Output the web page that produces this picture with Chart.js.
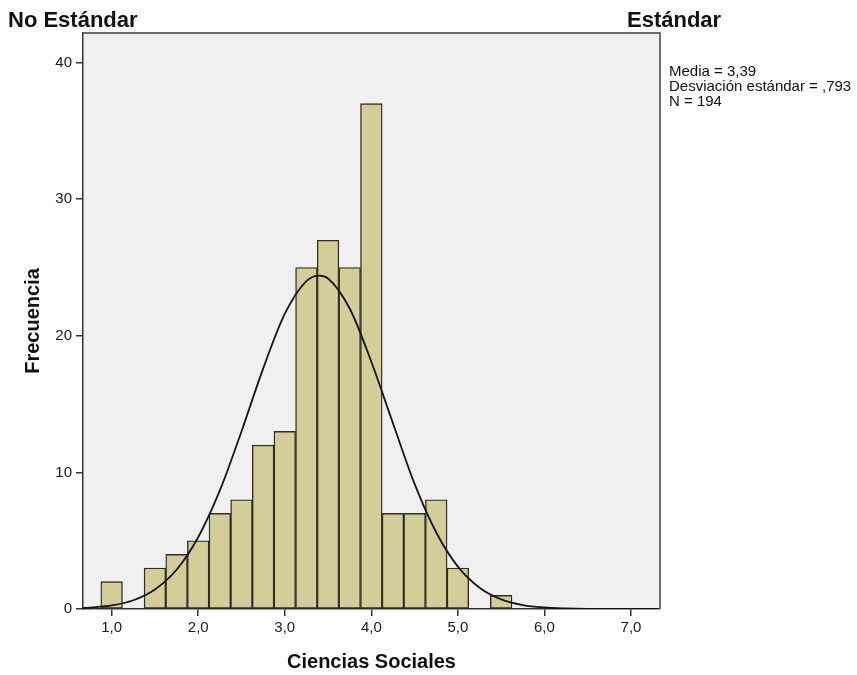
<!DOCTYPE html>
<html>
<head>
<meta charset="utf-8">
<title>Ciencias Sociales</title>
<script src="https://cdn.jsdelivr.net/npm/chart.js@4/dist/chart.umd.min.js"></script>
<style>
  html, body { margin: 0; padding: 0; background: #fff; }
  #wrap { width: 857px; height: 675px; position: relative; }
</style>
</head>
<body>
<div id="wrap"><canvas id="myChart"></canvas></div>
<script>
// histogram bins (bin centre, width 0.25) and counts
const binCenters = [1.0, 1.5, 1.75, 2.0, 2.25, 2.5, 2.75, 3.0, 3.25, 3.5, 3.75, 4.0, 4.25, 4.5, 4.75, 5.0, 5.5];
const binCounts  = [2, 3, 4, 5, 7, 8, 12, 13, 25, 27, 25, 37, 7, 7, 8, 3, 1];

// normal curve, values
const curveX = [0.67, 0.75, 1.0, 1.25, 1.5, 1.75, 2.0, 2.25, 2.5, 2.75, 3.0, 3.25, 3.4, 3.5, 3.75, 4.0, 4.25, 4.5, 4.75, 5.0, 5.25, 5.5, 5.75, 6.0, 6.25, 6.5, 7.0, 7.33];
const curveY = [0.06, 0.1, 0.26, 0.64, 1.43, 2.87, 5.25, 8.68, 13.0, 17.6, 21.6, 24.0, 24.4, 24.2, 22.0, 18.1, 13.6, 9.16, 5.6, 3.1, 1.56, 0.71, 0.29, 0.11, 0.04, 0.01, 0, 0];

const xTicks = [1, 2, 3, 4, 5, 6, 7];
const yTicks = [0, 10, 20, 30, 40];

const statsLines = ["Media = 3,39", "Desviación estándar = ,793", "N = 194"];
const leftTitle = "No Estándar";
const rightTitle = "Estándar";

const FONT = "'Liberation Sans', Arial, sans-serif";

const frameAndText = {
    id: 'frameAndText',
    beforeDraw(chart) {
        const a = chart.chartArea;
        const ctx = chart.ctx;
        ctx.save();
        ctx.fillStyle = '#f0f0f0';
        ctx.fillRect(a.left, a.top, a.right - a.left, a.bottom - a.top);
        ctx.restore();
    },
    afterDraw(chart) {
        const a = chart.chartArea;
        const ctx = chart.ctx;
        ctx.save();
        // top and right frame
        ctx.strokeStyle = '#6e6e6e';
        ctx.lineWidth = 2;
        ctx.beginPath();
        ctx.moveTo(a.left, a.top);
        ctx.lineTo(a.right, a.top);
        ctx.lineTo(a.right, a.bottom);
        ctx.stroke();

        ctx.fillStyle = '#111';
        ctx.textBaseline = 'alphabetic';
        ctx.textAlign = 'left';
        ctx.font = "bold 22px " + FONT;
        ctx.fillText(leftTitle, 8, 27);
        ctx.fillText(rightTitle, 627, 27);

        ctx.font = "15px " + FONT;
        statsLines.forEach(function (t, i) {
            ctx.fillText(t, 669, 76 + i * 15);
        });
        ctx.restore();
    }
};

const ctx = document.getElementById('myChart');
const myChart = new Chart(ctx, {
    type: 'bar',
    data: {
        datasets: [{
            type: 'line',
            data: curveX.map((x, i) => ({ x: x, y: curveY[i] })),
            borderColor: '#151515',
            borderWidth: 1.8,
            pointRadius: 0,
            cubicInterpolationMode: 'monotone',
            fill: false,
            order: 0
        }, {
            type: 'bar',
            data: binCenters.map((x, i) => ({ x: x, y: binCounts[i] })),
            backgroundColor: '#d3ce98',
            borderColor: '#2e2e25',
            borderWidth: 1.4,
            borderSkipped: false,
            barPercentage: 1.0,
            categoryPercentage: 1.0,
            order: 1
        }]
    },
    options: {
        responsive: true,
        maintainAspectRatio: false,
        animation: false,
        devicePixelRatio: 1,
        layout: { padding: { left: 0, top: 33, right: 197, bottom: 0 } },
        plugins: {
            legend: { display: false },
            tooltip: { enabled: false }
        },
        scales: {
            x: {
                type: 'linear',
                min: 0.669,
                max: 7.335,
                offset: false,
                afterBuildTicks: s => { s.ticks = xTicks.map(v => ({ value: v })); },
                afterFit: s => { s.height = 66; },
                grid: { offset: false, drawOnChartArea: false, drawTicks: true, tickLength: 7, color: '#333', lineWidth: 1.5 },
                border: { display: true, color: '#333', width: 1.5 },
                ticks: {
                    padding: 3,
                    color: '#1a1a1a',
                    font: { family: FONT, size: 15 },
                    callback: v => v.toFixed(1).replace('.', ',')
                },
                title: {
                    display: true,
                    text: 'Ciencias Sociales',
                    color: '#111',
                    font: { family: FONT, size: 20, weight: 'bold' },
                    padding: { top: 0, bottom: 1 }
                }
            },
            y: {
                min: 0,
                max: 42.17,
                afterBuildTicks: s => { s.ticks = yTicks.map(v => ({ value: v })); },
                afterFit: s => { s.width = 83; },
                grid: { drawOnChartArea: false, drawTicks: true, tickLength: 7, color: '#333', lineWidth: 1.5 },
                border: { display: true, color: '#333', width: 1.5 },
                ticks: {
                    padding: 4,
                    color: '#1a1a1a',
                    font: { family: FONT, size: 15 }
                },
                title: {
                    display: true,
                    text: 'Frecuencia',
                    color: '#111',
                    font: { family: FONT, size: 20, weight: 'bold' },
                    padding: { top: 21, bottom: 0 }
                }
            }
        }
    },
    plugins: [frameAndText]
});
</script>
</body>
</html>
